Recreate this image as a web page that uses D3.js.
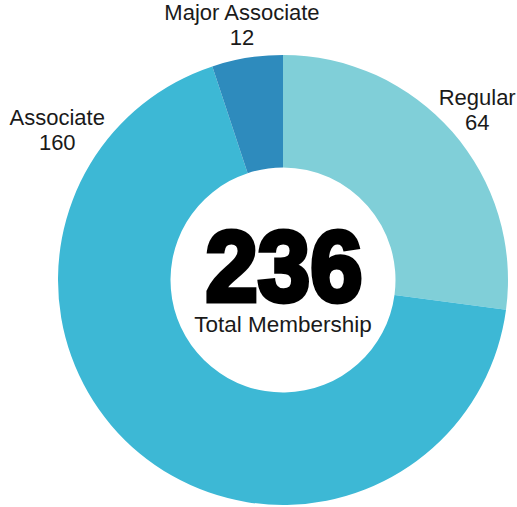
<!DOCTYPE html>
<html>
<head>
<meta charset="utf-8">
<script src="https://cdn.jsdelivr.net/npm/d3@7"></script>
<style>
  body { margin: 0; background: #fff; }
  svg { display: block; }
  text { font-family: "Liberation Sans", Arial, Helvetica, sans-serif; fill: #1a1a1a; }
</style>
</head>
<body>
<svg></svg>
<script>
let categories = ['Regular', 'Associate', 'Major Associate']
let counts = [64, 160, 12]
let colors = ['#80cfd8', '#3db8d5', '#2e8bbd']
let totalLabel = 'Total Membership'

let width = 517
let height = 507
let cx = 283
let cy = 280
let outerR = 225
let innerR = 112.5

let values = categories.map((c, i) => ({ name: c, value: counts[i], color: colors[i] }))
let total = d3.sum(counts)

let svg = d3.select('svg')
  .attr('width', width)
  .attr('height', height)

let g = svg.append('g').attr('transform', `translate(${cx},${cy})`)

let pie = d3.pie()
  .value(d => d.value)
  .sort(null)

let arc = d3.arc()
  .innerRadius(innerR)
  .outerRadius(outerR)

let arcs = pie(values)

g.selectAll('path')
  .data(arcs)
  .enter()
  .append('path')
  .attr('d', arc)
  .attr('fill', d => d.data.color)

// label placement: centroid angle pushed outside the ring,
// the big slice gets its label up on the left side instead
let labelPos = (d) => {
  let a = (d.startAngle + d.endAngle) / 2
  let r = 258
  if (d.data.name == 'Associate') {
    a = d.endAngle - 0.665
    r = 271
  }
  return [Math.sin(a) * r, -Math.cos(a) * r]
}

let labels = g.selectAll('.lbl')
  .data(arcs)
  .enter()
  .append('text')
  .attr('class', 'lbl')
  .attr('text-anchor', 'middle')
  .attr('font-size', 22)
  .attr('transform', d => {
    let p = labelPos(d)
    return `translate(${p[0]},${p[1]})`
  })

labels.append('tspan')
  .attr('x', 0)
  .attr('y', -5)
  .text(d => d.data.name)

labels.append('tspan')
  .attr('x', 0)
  .attr('y', 20)
  .text(d => d.data.value)

// big total, heavy condensed look: narrow bold + thick stroke
g.append('text')
  .attr('x', 1)
  .attr('y', 21)
  .attr('text-anchor', 'middle')
  .style('font-family', '"Liberation Sans Narrow", "Liberation Sans", Arial, sans-serif')
  .attr('font-weight', 'bold')
  .attr('font-size', 100)
  .attr('stroke', '#000')
  .attr('stroke-width', 5)
  .attr('stroke-linejoin', 'miter')
  .style('fill', '#000')
  .attr('textLength', 157)
  .attr('lengthAdjust', 'spacingAndGlyphs')
  .text(total)

g.append('text')
  .attr('x', 0)
  .attr('y', 52)
  .attr('text-anchor', 'middle')
  .attr('font-size', 22.5)
  .text(totalLabel)
</script>
</body>
</html>
